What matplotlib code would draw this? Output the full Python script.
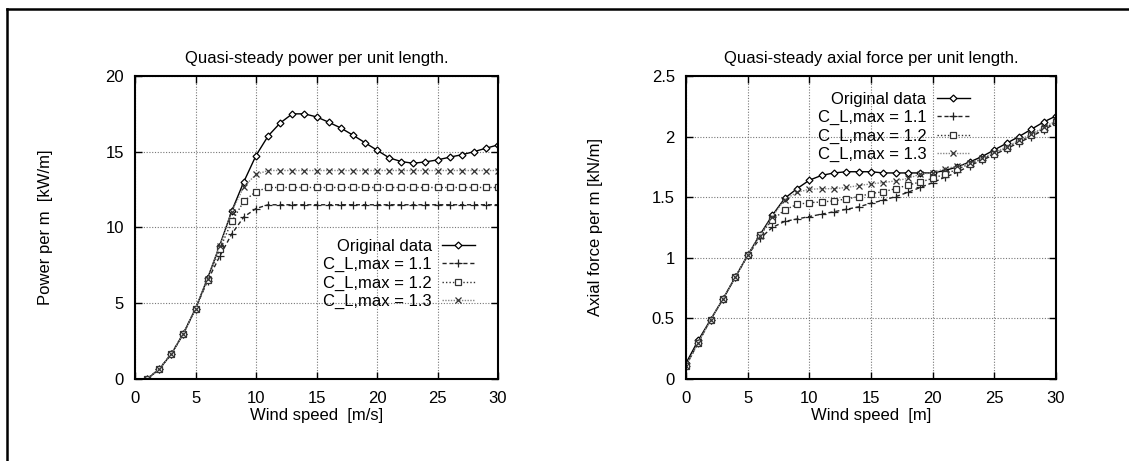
import matplotlib.pyplot as plt
from matplotlib.lines import Line2D

plt.rcParams["font.family"] = ["Liberation Sans", "DejaVu Sans"]
plt.rcParams["font.size"] = 12

# power per unit length, wind speed 1..30 m/s
speed_p = list(range(1, 31))
power_orig = [0.0, 0.65, 1.65, 3.0, 4.64, 6.66, 8.81, 11.1, 13.03, 14.75,
              16.04, 16.9, 17.5, 17.5, 17.3, 16.95, 16.57, 16.1, 15.6, 15.1,
              14.6, 14.35, 14.24, 14.33, 14.46, 14.64, 14.8, 15.0, 15.23, 15.45]
power_11 = [0.0, 0.65, 1.65, 3.0, 4.64, 6.5, 8.1, 9.58, 10.7, 11.25,
            11.5, 11.5, 11.5, 11.5, 11.5, 11.5, 11.5, 11.5, 11.5, 11.5,
            11.5, 11.5, 11.5, 11.5, 11.5, 11.5, 11.5, 11.5, 11.5, 11.5]
power_12 = [0.0, 0.65, 1.65, 3.0, 4.64, 6.55, 8.57, 10.4, 11.74, 12.37,
            12.64, 12.64, 12.64, 12.64, 12.64, 12.64, 12.64, 12.64, 12.64, 12.64,
            12.64, 12.64, 12.64, 12.64, 12.64, 12.64, 12.64, 12.64, 12.64, 12.64]
power_13 = [0.0, 0.65, 1.65, 3.0, 4.64, 6.6, 8.8, 11.05, 12.7, 13.5,
            13.76, 13.76, 13.76, 13.76, 13.76, 13.76, 13.76, 13.76, 13.76, 13.76,
            13.76, 13.76, 13.76, 13.76, 13.76, 13.76, 13.76, 13.76, 13.76, 13.76]

# axial force per unit length, wind speed 0..30
speed_f = list(range(0, 31))
force_orig = [0.13, 0.32, 0.49, 0.66, 0.84, 1.02, 1.19, 1.35, 1.49, 1.57, 1.64,
              1.68, 1.70, 1.71, 1.71, 1.71, 1.70, 1.70, 1.70, 1.70, 1.70,
              1.72, 1.75, 1.79, 1.835, 1.89, 1.945, 2.0, 2.06, 2.12, 2.17]
force_11 = [0.11, 0.30, 0.49, 0.66, 0.84, 1.02, 1.16, 1.25, 1.30, 1.32, 1.34,
            1.36, 1.38, 1.40, 1.42, 1.45, 1.475, 1.505, 1.54, 1.58, 1.62,
            1.665, 1.705, 1.76, 1.805, 1.85, 1.90, 1.95, 2.0, 2.055, 2.11]
force_12 = [0.11, 0.30, 0.49, 0.66, 0.84, 1.02, 1.19, 1.31, 1.395, 1.44, 1.455,
            1.46, 1.47, 1.485, 1.505, 1.53, 1.545, 1.57, 1.60, 1.625, 1.655,
            1.69, 1.73, 1.775, 1.815, 1.86, 1.905, 1.96, 2.01, 2.065, 2.12]
force_13 = [0.11, 0.30, 0.49, 0.66, 0.84, 1.02, 1.18, 1.34, 1.48, 1.54, 1.565,
            1.57, 1.57, 1.58, 1.595, 1.61, 1.62, 1.635, 1.655, 1.69, 1.70,
            1.735, 1.755, 1.78, 1.82, 1.87, 1.915, 1.97, 2.02, 2.075, 2.13]

labels = ["Original data", "C_L,max = 1.1", "C_L,max = 1.2", "C_L,max = 1.3"]
styles = [
    dict(color="black", linestyle="-", marker="D", markersize=3.5, markerfacecolor="white"),
    dict(color="#222222", linestyle=(0, (3, 2)), marker="+", markersize=6),
    dict(color="#333333", linestyle=(0, (1, 1.5)), marker="s", markersize=4.5, markerfacecolor="white"),
    dict(color="#888888", linestyle=(0, (1, 1)), marker="x", markersize=4.5, markeredgecolor="#333333"),
]


def style_axes(ax):
    ax.set_xlim(0, 30)
    ax.set_xticks(range(0, 31, 5))
    ax.grid(True, linestyle=(0, (1, 1.5)), color="#777777", linewidth=0.8)
    ax.tick_params(direction="in", top=True, right=True, length=5, width=1)
    ax.tick_params(axis="x", pad=9)
    ax.tick_params(axis="y", pad=8)
    for sp in ax.spines.values():
        sp.set_linewidth(1.5)


fig = plt.figure(figsize=(11.29, 4.61), dpi=100)
ax1 = fig.add_axes([0.1196, 0.1779, 0.3215, 0.6573])
ax2 = fig.add_axes([0.6076, 0.1779, 0.3277, 0.6573])

for ys, lab, st in zip([power_orig, power_11, power_12, power_13], labels, styles):
    ax1.plot(speed_p, ys, label=lab, linewidth=1.0, markeredgewidth=0.9, **st)
for ys, lab, st in zip([force_orig, force_11, force_12, force_13], labels, styles):
    ax2.plot(speed_f, ys, label=lab, linewidth=1.0, markeredgewidth=0.9, **st)

style_axes(ax1)
ax1.set_ylim(0, 20)
ax1.set_yticks(range(0, 21, 5))
ax1.set_title("Quasi-steady power per unit length.", fontsize=12, pad=9)
ax1.set_xlabel("Wind speed  [m/s]", labelpad=1)
ax1.set_ylabel("Power per m  [kW/m]")
ax1.yaxis.set_label_coords(-0.226, 0.5)
ax1.legend(loc="upper right", bbox_to_anchor=(0.96, 0.49), frameon=False,
           markerfirst=False, borderpad=0, handlelength=2.0, handletextpad=0.6,
           labelspacing=0.2, fontsize=12)

style_axes(ax2)
ax2.set_ylim(0, 2.5)
ax2.set_yticks([0, 0.5, 1, 1.5, 2, 2.5])
ax2.set_yticklabels(["0", "0.5", "1", "1.5", "2", "2.5"])
ax2.set_title("Quasi-steady axial force per unit length.", fontsize=12, pad=9)
ax2.set_xlabel("Wind speed  [m]", labelpad=1)
ax2.set_ylabel("Axial force per m [kN/m]")
ax2.yaxis.set_label_coords(-0.224, 0.5)
ax2.legend(loc="upper right", bbox_to_anchor=(0.79, 0.975), frameon=False,
           markerfirst=False, borderpad=0, handlelength=2.0, handletextpad=0.6,
           labelspacing=0.2, fontsize=12)

# outer frame: top and left edges only
fig.add_artist(Line2D([0.0062, 1.0], [0.9815, 0.9815], color="black", linewidth=1.8,
                      transform=fig.transFigure))
fig.add_artist(Line2D([0.0062, 0.0062], [0.0, 0.9815], color="black", linewidth=1.8,
                      transform=fig.transFigure))

fig.savefig("out.png", dpi=100)
